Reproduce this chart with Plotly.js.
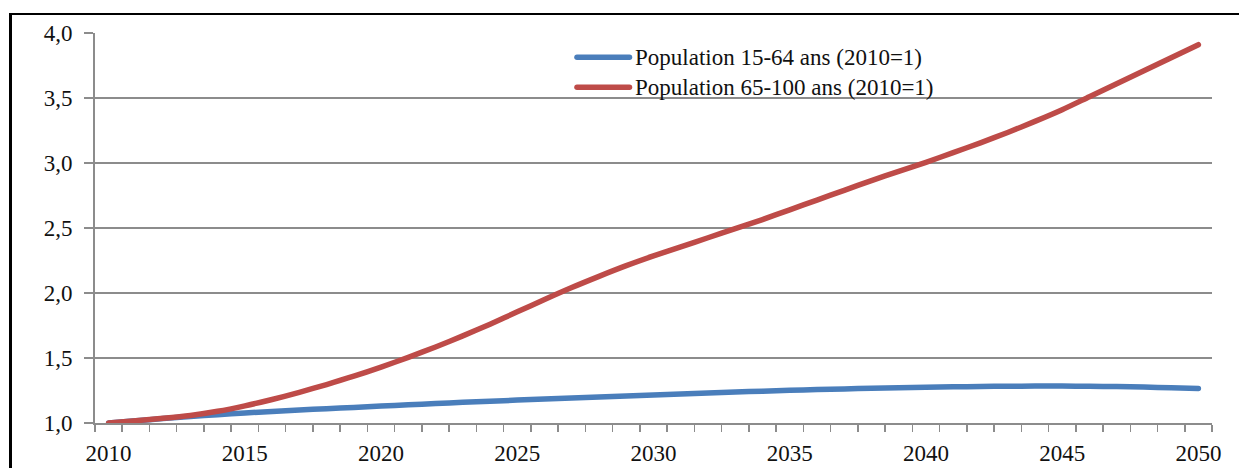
<!DOCTYPE html>
<html>
<head>
<meta charset="utf-8">
<script src="https://cdn.plot.ly/plotly-3.0.1.min.js"></script>
<style>
  html, body { margin: 0; padding: 0; background: #fff; }
  #wrap { position: relative; width: 1239px; height: 468px; overflow: hidden; }
  #frame {
    position: absolute; left: 9px; top: 13px; width: 1300px; height: 500px;
    border-left: 3px solid #000; border-top: 2px solid #000; box-sizing: border-box;
  }
  #chart { position: absolute; left: 0; top: 0; width: 1239px; height: 468px; }
</style>
</head>
<body>
<div id="wrap">
  <div id="frame"></div>
  <div id="chart"></div>
</div>
<script>
// Years covered by the projection
const years = [];
for (let y = 2010; y <= 2050; y++) years.push(y);

// Index of the 15-64 population (2010 = 1)
const pop1564 = [
  1.000, 1.017, 1.034, 1.050, 1.064, 1.077, 1.089, 1.100, 1.110, 1.120,
  1.130, 1.140, 1.150, 1.159, 1.168, 1.176, 1.184, 1.192, 1.200, 1.208,
  1.216, 1.224, 1.231, 1.238, 1.245, 1.251, 1.257, 1.262, 1.267, 1.271,
  1.275, 1.278, 1.281, 1.283, 1.284, 1.284, 1.283, 1.280, 1.276, 1.271,
  1.266
];

// Index of the 65-100 population (2010 = 1)
const pop65100 = [
  1.000, 1.018, 1.036, 1.058, 1.090, 1.132, 1.181, 1.236, 1.296, 1.360,
  1.430, 1.505, 1.585, 1.670, 1.760, 1.855, 1.950, 2.042, 2.128, 2.210,
  2.285, 2.355, 2.425, 2.495, 2.565, 2.640, 2.715, 2.790, 2.865, 2.935,
  3.005, 3.080, 3.155, 3.235, 3.320, 3.410, 3.510, 3.610, 3.710, 3.810,
  3.910
];

const seriesNames = ["Population 15-64 ans (2010=1)", "Population 65-100 ans (2010=1)"];
const seriesColors = ["#4A7EBB", "#BE4B48"];
const xTickYears = [2010, 2015, 2020, 2025, 2030, 2035, 2040, 2045, 2050];
const yTickValues = [1.0, 1.5, 2.0, 2.5, 3.0, 3.5, 4.0];

const serif = "'Liberation Serif', 'Times New Roman', Times, serif";
const textFont = { family: serif, size: 23, color: "#111" };

const traces = [pop1564, pop65100].map((vals, i) => ({
  x: years,
  y: vals,
  type: "scatter",
  mode: "lines",
  name: seriesNames[i],
  line: { color: seriesColors[i], width: 5.5, shape: "spline", smoothing: 0.8 },
  hoverinfo: "x+y"
}));

const gridGrey = "#8c8c8c";

// Hand-placed legend: sample line plus label for each series
const legendRows = [0.938, 0.861];
const shapes = legendRows.map((yy, i) => ({
  type: "line", xref: "paper", yref: "paper",
  x0: 0.4315, x1: 0.4785, y0: yy, y1: yy,
  line: { color: seriesColors[i], width: 5.5 }
}));
const annotations = legendRows.map((yy, i) => ({
  xref: "paper", yref: "paper", x: 0.4815, y: yy,
  xanchor: "left", yanchor: "middle", showarrow: false,
  text: seriesNames[i],
  font: textFont
}));

const layout = {
  width: 1239,
  height: 468,
  margin: { l: 95, r: 27, t: 33, b: 45 },
  paper_bgcolor: "rgba(0,0,0,0)",
  plot_bgcolor: "rgba(0,0,0,0)",
  showlegend: false,
  separators: ", ",
  font: textFont,
  xaxis: {
    range: [2009.5, 2050.5],
    tickmode: "array",
    tickvals: xTickYears,
    ticktext: xTickYears.map(String),
    ticks: "",
    ticklabelstandoff: 8,
    tickfont: textFont,
    showgrid: false,
    zeroline: false,
    showline: true,
    linecolor: gridGrey,
    linewidth: 2,
    minor: {
      tickmode: "linear", tick0: 2009.5, dtick: 1,
      ticks: "outside", ticklen: 7, tickwidth: 1.5, tickcolor: gridGrey,
      showgrid: false
    },
    fixedrange: true
  },
  yaxis: {
    range: [1, 4],
    tickmode: "array",
    tickvals: yTickValues,
    tickformat: ".1f",
    ticks: "outside",
    ticklen: 9,
    tickwidth: 1.5,
    tickcolor: gridGrey,
    ticklabelstandoff: 7,
    tickfont: textFont,
    showgrid: true,
    gridcolor: gridGrey,
    gridwidth: 1.5,
    zeroline: false,
    showline: true,
    linecolor: gridGrey,
    linewidth: 2,
    fixedrange: true
  },
  shapes: shapes,
  annotations: annotations
};

Plotly.newPlot("chart", traces, layout, { displayModeBar: false, staticPlot: true }).then(gd => {
  // let the thick line ends spill past the axis edge instead of being cut
  gd.querySelectorAll(".cartesianlayer .plot").forEach(el => el.removeAttribute("clip-path"));
  gd.querySelectorAll(".scatterlayer .trace path.js-line").forEach(p => {
    p.style.strokeLinecap = "round";
    p.style.strokeLinejoin = "round";
  });
  gd.querySelectorAll(".layer-above path, .layer-below path").forEach(p => {
    p.style.strokeLinecap = "round";
  });
});
</script>
</body>
</html>
